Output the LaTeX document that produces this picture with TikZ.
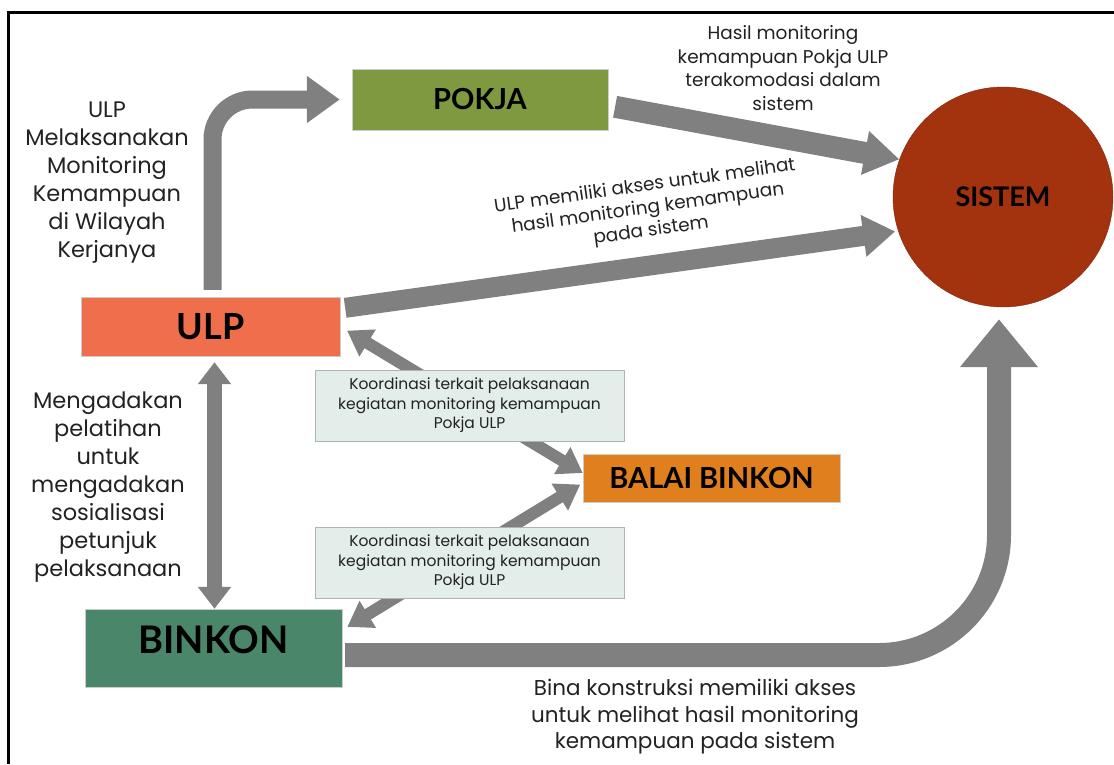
\documentclass[tikz,border=0pt]{standalone}
\usepackage{fontspec}
\setmainfont{Poppins}
\newfontfamily\labelfont{Lato}
\usetikzlibrary{positioning,arrows.meta,calc}
\definecolor{cpokja}{HTML}{7F9940}
\definecolor{culp}{HTML}{EF6F4D}
\definecolor{cbinkon}{HTML}{4A866A}
\definecolor{cbalai}{HTML}{E07F1E}
\definecolor{csis}{HTML}{A3320F}
\definecolor{carrow}{HTML}{808080}
\definecolor{cnote}{HTML}{E3EEEA}
\definecolor{ctext}{HTML}{222222}
\tikzset{
  box/.style={rectangle, draw=black!20, inner sep=0pt, text=black},
  note/.style={rectangle, draw=black!30, fill=cnote, minimum width=309pt, minimum height=71pt,
               align=center, text=ctext, font=\fontsize{15.5}{19.5}\selectfont},
  fat/.style={draw=carrow, line cap=butt},
  lbl/.style={align=center, text=ctext, inner sep=0pt}
}

\begin{document}
\begin{tikzpicture}[x=1pt, y=-1pt]
\useasboundingbox (0,0) rectangle (1114,764);
\draw[line width=3pt] (8,764) -- (8,12) -- (1114,12);

\node[box, fill=cpokja, minimum width=256pt, minimum height=61pt,
      font=\labelfont\bfseries\fontsize{29}{29}\selectfont] (pokja) at (480,99.5) {POKJA};
\node[box, fill=culp, minimum width=259pt, minimum height=59pt,
      font=\labelfont\bfseries\fontsize{36}{36}\selectfont] (ulp) at (210.5,326.5) {ULP};
\node[box, fill=cbinkon, minimum width=257pt, minimum height=78pt, text depth=16pt,
      font=\labelfont\bfseries\fontsize{38}{38}\selectfont] (binkon) at (213.5,648) {BINKON};
\node[box, fill=cbalai, minimum width=257pt, minimum height=48pt,
      font=\labelfont\bfseries\fontsize{29}{29}\selectfont] (balai) at (711.5,478) {BALAI BINKON};
\node[circle, fill=csis, draw=csis!80!black, minimum size=220pt, inner sep=0pt,
      font=\labelfont\bfseries\fontsize{27}{27}\selectfont] (sistem) at (1003,197) {SISTEM};

% arrows
\draw[fat, line width=18pt, -{Triangle[width=45pt,length=33pt]}, rounded corners=40pt,
      shorten <=7pt, shorten >=12pt] ([xshift=2pt]ulp.north) |- (pokja.west);
\draw[fat, line width=22pt, -{Triangle[width=42pt,length=35pt]}, shorten <=7pt]
      ([yshift=-6pt]pokja.east) -- (sistem.160);
\draw[fat, line width=20pt, -{Triangle[width=40pt,length=32pt]}, shorten <=5pt, shorten >=3pt]
      ([yshift=18pt]ulp.east) -- (sistem.198);
\draw[fat, line width=12pt, {Triangle[width=30pt,length=24pt]}-{Triangle[width=30pt,length=24pt]},
      shorten <=8pt] (ulp.east) -- ([yshift=5pt]balai.west);
\draw[fat, line width=12pt, {Triangle[width=30pt,length=24pt]}-{Triangle[width=30pt,length=24pt]},
      shorten <=3pt, shorten >=6pt] ([yshift=-5pt]balai.west) -- ([yshift=18pt]binkon.east);
\draw[fat, line width=15pt, {Triangle[width=32pt,length=22pt]}-{Triangle[width=32pt,length=22pt]},
      shorten <=6pt] ([xshift=4pt]ulp.south) -- ([xshift=4pt]ulp.south |- binkon.north);
\draw[fat, line width=24pt, -{Triangle[width=75pt,length=48pt]}, rounded corners=120pt,
      shorten <=3pt, shorten >=12pt] ([yshift=-7pt]binkon.east) -| ([xshift=-4pt]sistem.south);

\node[note] (koord1) at (469.5,405.5) {Koordinasi terkait pelaksanaan\\kegiatan monitoring kemampuan\\Pokja ULP};
\node[note] (koord2) at (469.5,562.5) {Koordinasi terkait pelaksanaan\\kegiatan monitoring kemampuan\\Pokja ULP};

% texts
\node[lbl, font=\fontsize{22.5}{28}\selectfont] (tulp) at (107,183)
  {ULP\\Melaksanakan\\Monitoring\\Kemampuan\\di Wilayah\\Kerjanya};
\node[lbl, font=\fontsize{22.5}{28}\selectfont] (tlatih) at (108,487)
  {Mengadakan\\pelatihan\\untuk\\mengadakan\\sosialisasi\\petunjuk\\pelaksanaan};
\node[lbl, font=\fontsize{18.5}{23.5}\selectfont] (thasil) at (783,68)
  {Hasil monitoring\\kemampuan Pokja ULP\\terakomodasi dalam\\sistem};
\node[lbl, rotate=8, font=\fontsize{18.5}{22.5}\selectfont] (takses) at (648,209)
  {ULP memiliki akses untuk melihat\\hasil monitoring kemampuan\\pada sistem};
\node[lbl, font=\fontsize{21.5}{26.5}\selectfont] (tbina) at (695,717)
  {Bina konstruksi memiliki akses\\untuk melihat hasil monitoring\\kemampuan pada sistem};
\end{tikzpicture}
\end{document}
